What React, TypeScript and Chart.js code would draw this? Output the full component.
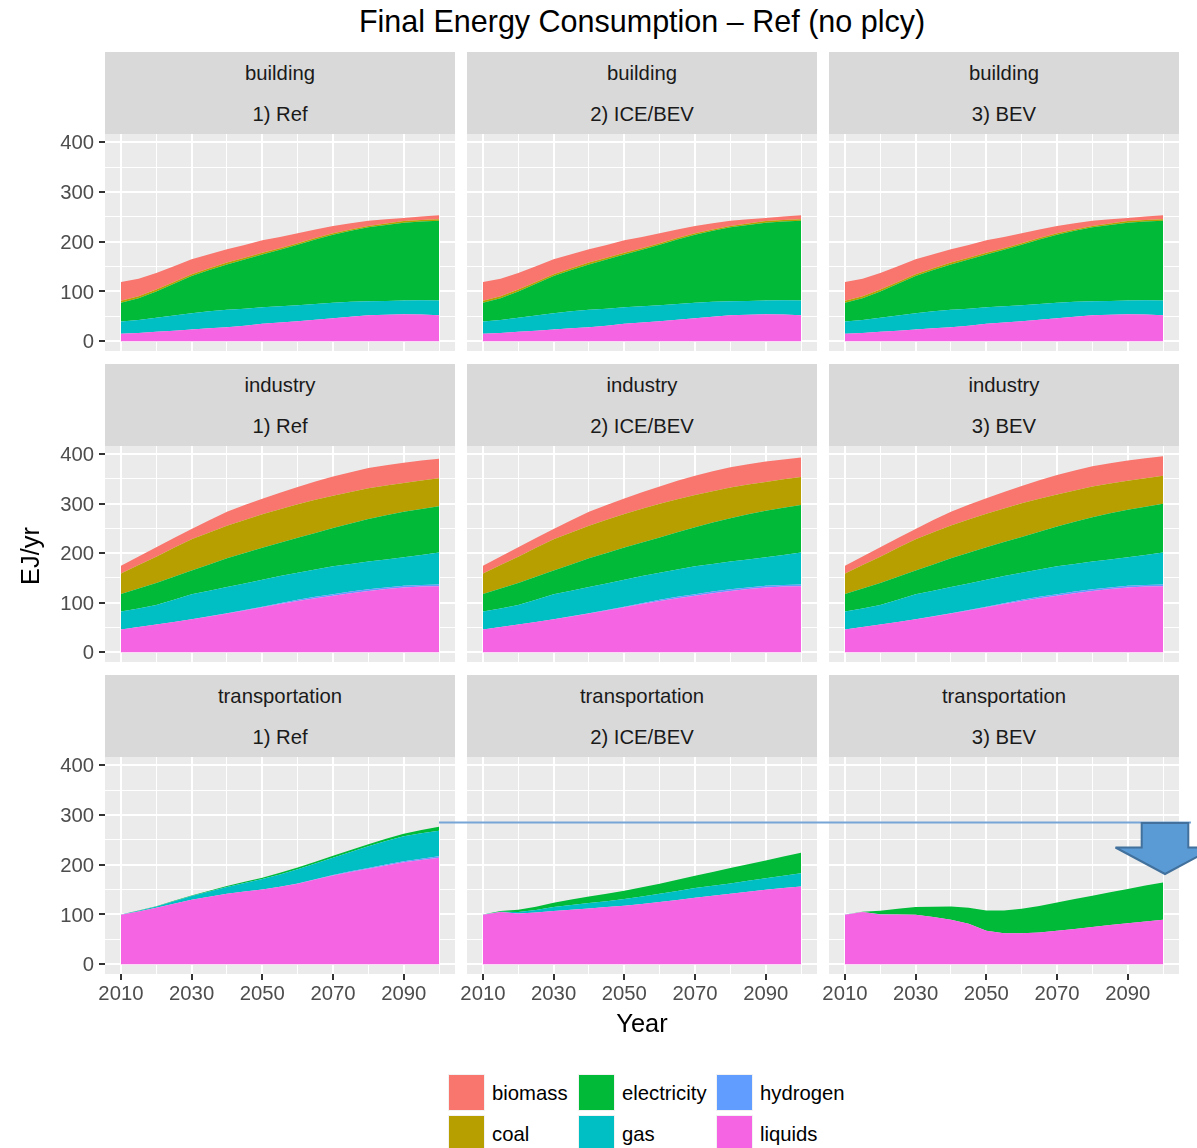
import { useEffect, useRef } from 'react';
import { Chart, registerables } from 'chart.js';

Chart.register(...registerables);

// ---------------- data ----------------
const years = [2010, 2015, 2020, 2025, 2030, 2035, 2040, 2045, 2050, 2055, 2060, 2065, 2070, 2075, 2080, 2085, 2090, 2095, 2100];
const xGridYears = [2010, 2020, 2030, 2040, 2050, 2060, 2070, 2080, 2090, 2100];
const xTickYears = [2010, 2030, 2050, 2070, 2090];
const yGridValues = [0, 50, 100, 150, 200, 250, 300, 350, 400];
const yTickValues = [0, 100, 200, 300, 400];

const sectors = ['building', 'industry', 'transportation'];
const scenarios = ['1) Ref', '2) ICE/BEV', '3) BEV'];
const fuels = ['biomass', 'coal', 'electricity', 'gas', 'hydrogen', 'liquids'];
const fuelColors = ['#F8766D', '#B79F00', '#00BA38', '#00BFC4', '#619CFF', '#F564E3'];

// building (EJ/yr)
const buildingLiquids = [15, 16.5, 19, 21, 23.5, 26, 28, 31, 35, 37.5, 40, 43, 46, 49, 52, 53, 54, 53.5, 52];
const buildingHydrogen = [0, 0, 0, 0, 0, 0, 0, 0, 0, 0, 0, 0, 0, 0, 0, 0, 0, 0, 0];
const buildingGas = [24.6, 26, 28, 30.5, 32.5, 34, 35, 34, 33, 32.5, 32, 31.5, 31, 30, 28.5, 28, 28, 29, 30];
const buildingElectricity = [37.4, 44, 53, 64, 75, 83, 91, 99, 106.5, 114, 122, 130, 137, 143, 148.5, 152.5, 156, 158, 160];
const buildingCoal = [4, 4, 4, 3.5, 3.5, 3.5, 4, 3.5, 3.5, 3, 3, 3, 3, 2.5, 2.5, 3, 3.5, 3, 3];
const buildingBiomass = [38, 35, 33, 31.5, 30, 28.5, 27, 26, 25, 22.5, 20, 17, 14.5, 12.5, 10.6, 8.5, 6.4, 7, 8];

// industry (EJ/yr)
const industryLiquids = [45.7, 50.7, 55.8, 61.2, 66.6, 72.2, 78, 84.3, 90.8, 97.2, 103.5, 109, 114.3, 119.2, 123.7, 127.6, 130.8, 132.5, 133.2];
const industryHydrogen = [0, 0, 0, 0, 0, 0.2, 0.5, 0.8, 1.2, 1.8, 2.5, 2.8, 3, 3.2, 3.3, 3.3, 3.3, 3.4, 3.5];
const industryGas = [36.3, 37.8, 39.7, 44.8, 50.4, 51.9, 53, 53.9, 54.5, 54.7, 54.7, 55.4, 56.1, 56, 56, 56.4, 57.5, 60.6, 64.7];
const industryElectricityRef = [35.6, 40.3, 44.5, 46.5, 48, 53, 58.1, 61.3, 64.5, 67.3, 70.3, 73.8, 77.6, 81.8, 86, 89.3, 92.1, 93, 93.6];
const industryElectricityIceBev = [35.6, 40.3, 44.5, 46.5, 48, 53, 58.3, 61.6, 65, 68, 71.2, 75, 79, 83.4, 87.8, 91.3, 94.2, 95.3, 96];
const industryElectricityBev = [35.6, 40.3, 44.5, 46.5, 48, 53.1, 58.5, 62, 65.6, 68.8, 72.2, 76.2, 80.4, 85, 89.6, 93.2, 96.3, 97.6, 98.6];
const industryCoal = [41.1, 47.2, 53, 58.3, 63, 64.7, 65.9, 66.9, 67.5, 68, 68, 66.8, 65, 63.5, 62, 60.1, 58.3, 57.4, 56.6];
const industryBiomass = [16.1, 17.2, 19, 19.7, 21, 24.8, 28.1, 30.1, 31.5, 33.3, 35, 37.2, 39, 40.1, 41, 41.1, 41, 40.3, 39.4];

// transportation (EJ/yr)
const transportNone = [0, 0, 0, 0, 0, 0, 0, 0, 0, 0, 0, 0, 0, 0, 0, 0, 0, 0, 0];
const transportRefLiquids = [99.3, 106, 113.4, 121.5, 129.5, 135.5, 141.6, 146, 150.3, 155.5, 161.7, 170, 178.5, 185.5, 192, 198.5, 204.7, 209.5, 214];
const transportRefHydrogen = [0, 0, 0, 0, 0, 0, 0, 0, 0, 0.3, 0.5, 0.8, 1, 1.3, 1.6, 2, 2.3, 2.6, 2.8];
const transportRefGas = [0.5, 1.5, 2.6, 5, 7.5, 10.5, 13.4, 17, 20.7, 24.5, 28.8, 31.5, 34.5, 39, 43.4, 47, 50, 51, 51.7];
const transportRefElectricity = [0.2, 0.4, 0.6, 0.8, 1, 1.5, 2, 2.5, 3, 3.3, 3.6, 3.8, 4, 4, 4, 4.6, 5.4, 6.5, 8];
const transportIceBevLiquids = [99.3, 105, 102, 104, 106.7, 109.5, 112, 114.7, 117.4, 121, 124.8, 129, 133.6, 137.5, 141.6, 145.6, 149.7, 153, 156.4];
const transportIceBevGas = [0.3, 0.5, 2.7, 5, 8.1, 9.5, 10.8, 12, 13.5, 15, 16.8, 18, 19.4, 20, 20.8, 22, 23.3, 25, 26.6];
const transportIceBevElectricity = [0.2, 1.5, 4.7, 6.5, 8.7, 11, 13.2, 15, 16.8, 18.5, 20.1, 22.5, 24.9, 28, 30.9, 33.5, 35.7, 38.5, 41.2];
const transportBevLiquids = [99.3, 104.7, 100, 100, 99.3, 94.6, 89.3, 81.2, 67, 62.4, 62.4, 63.8, 67, 70.8, 74.5, 78.5, 82.5, 86, 89.3];
const transportBevGas = [0.3, 0.3, 0.2, 0.1, 0, 0, 0, 0, 0, 0, 0, 0, 0, 0, 0, 0, 0, 0, 0];
const transportBevElectricity = [0.4, 0.4, 7.2, 11.3, 15.5, 20.8, 26.7, 32.2, 41, 45.6, 49, 53, 57.2, 60, 63.1, 66, 68.5, 72, 75.1];

type FuelData = Record<string, number[]>;

const panelData: FuelData[][] = [
  [
    { biomass: buildingBiomass, coal: buildingCoal, electricity: buildingElectricity, gas: buildingGas, hydrogen: buildingHydrogen, liquids: buildingLiquids },
    { biomass: buildingBiomass, coal: buildingCoal, electricity: buildingElectricity, gas: buildingGas, hydrogen: buildingHydrogen, liquids: buildingLiquids },
    { biomass: buildingBiomass, coal: buildingCoal, electricity: buildingElectricity, gas: buildingGas, hydrogen: buildingHydrogen, liquids: buildingLiquids },
  ],
  [
    { biomass: industryBiomass, coal: industryCoal, electricity: industryElectricityRef, gas: industryGas, hydrogen: industryHydrogen, liquids: industryLiquids },
    { biomass: industryBiomass, coal: industryCoal, electricity: industryElectricityIceBev, gas: industryGas, hydrogen: industryHydrogen, liquids: industryLiquids },
    { biomass: industryBiomass, coal: industryCoal, electricity: industryElectricityBev, gas: industryGas, hydrogen: industryHydrogen, liquids: industryLiquids },
  ],
  [
    { biomass: transportNone, coal: transportNone, electricity: transportRefElectricity, gas: transportRefGas, hydrogen: transportRefHydrogen, liquids: transportRefLiquids },
    { biomass: transportNone, coal: transportNone, electricity: transportIceBevElectricity, gas: transportIceBevGas, hydrogen: transportNone, liquids: transportIceBevLiquids },
    { biomass: transportNone, coal: transportNone, electricity: transportBevElectricity, gas: transportBevGas, hydrogen: transportNone, liquids: transportBevLiquids },
  ],
];

// ---------------- layout / style ----------------
const FONT = '"Liberation Sans", Arial, Helvetica, sans-serif';
const COL_LEFT = [105, 467, 829];
const PANEL_W = 350;
const STRIP_TOP = [52, 364, 675];
const STRIP_H = 82;
const PLOT_TOP = [134, 446, 757];
const PLOT_H = [217, 216, 217];
const TICK_FONT = 20.3;

const panelBg = {
  id: 'panelBg',
  beforeDraw(chart: any) {
    const { ctx, chartArea } = chart;
    if (!chartArea) return;
    ctx.save();
    ctx.fillStyle = '#EBEBEB';
    ctx.fillRect(chartArea.left, chartArea.top, chartArea.right - chartArea.left, chartArea.bottom - chartArea.top);
    ctx.restore();
  },
};

function Panel({ row, col }: { row: number; col: number }) {
  const ref = useRef<HTMLCanvasElement>(null);
  const showY = col === 0;
  const showX = row === 2;
  const yW = showY ? 65 : 12;
  const xH = showX ? 44 : 0;
  const w = yW + PANEL_W;
  const h = PLOT_H[row] + xH;

  useEffect(() => {
    const d = panelData[row][col];
    const stackOrder = ['liquids', 'hydrogen', 'gas', 'electricity', 'coal', 'biomass'];
    const datasets = stackOrder.map((f, i) => ({
      label: f,
      data: years.map((yr, k) => ({ x: yr, y: d[f][k] })),
      backgroundColor: fuelColors[fuels.indexOf(f)],
      borderColor: 'rgba(0,0,0,0)',
      borderWidth: 0,
      pointRadius: 0,
      pointHoverRadius: 0,
      tension: 0,
      fill: i === 0 ? 'origin' : '-1',
    }));
    const chart = new Chart(ref.current as HTMLCanvasElement, {
      type: 'line',
      data: { datasets },
      plugins: [panelBg],
      options: {
        animation: false,
        responsive: false,
        maintainAspectRatio: false,
        devicePixelRatio: 1,
        events: [],
        layout: { padding: 0 },
        plugins: { legend: { display: false }, tooltip: { enabled: false }, title: { display: false } },
        scales: {
          x: {
            type: 'linear',
            min: 2005.5,
            max: 2104.5,
            afterBuildTicks: (s: any) => {
              s.ticks = xGridYears.map((v) => ({ value: v }));
            },
            afterFit: (s: any) => {
              s.height = xH;
              s.paddingLeft = 0;
              s.paddingRight = 0;
            },
            border: { display: false },
            grid: {
              color: '#FFFFFF',
              lineWidth: (c: any) => (c.tick && xTickYears.includes(c.tick.value) ? 2 : 1),
              drawTicks: showX,
              tickLength: 6,
              tickWidth: 2,
              tickColor: (c: any) => (c.tick && xTickYears.includes(c.tick.value) ? '#333333' : 'rgba(0,0,0,0)'),
            },
            ticks: {
              display: showX,
              autoSkip: false,
              maxRotation: 0,
              minRotation: 0,
              padding: 2,
              color: '#4D4D4D',
              font: { family: FONT, size: TICK_FONT },
              callback: (v: any) => (xTickYears.includes(Number(v)) ? String(v) : ''),
            },
          },
          y: {
            type: 'linear',
            stacked: true,
            min: -19.8,
            max: 416.6,
            afterBuildTicks: (s: any) => {
              s.ticks = yGridValues.map((v) => ({ value: v }));
            },
            afterFit: (s: any) => {
              s.width = yW;
              s.paddingTop = 0;
              s.paddingBottom = 0;
            },
            border: { display: false },
            grid: {
              color: '#FFFFFF',
              lineWidth: (c: any) => (c.tick && yTickValues.includes(c.tick.value) ? 2 : 1),
              drawTicks: showY,
              tickLength: 6,
              tickWidth: 2,
              tickColor: (c: any) => (c.tick && yTickValues.includes(c.tick.value) ? '#333333' : 'rgba(0,0,0,0)'),
            },
            ticks: {
              display: showY,
              autoSkip: false,
              padding: 5,
              labelOffset: 1.5,
              color: '#4D4D4D',
              font: { family: FONT, size: TICK_FONT },
              callback: (v: any) => (yTickValues.includes(Number(v)) ? String(v) : ''),
            },
          },
        },
      } as any,
    });
    return () => chart.destroy();
  }, [row, col]);

  return (
    <canvas
      ref={ref}
      width={w}
      height={h}
      style={{ position: 'absolute', left: COL_LEFT[col] - yW, top: PLOT_TOP[row], width: w, height: h }}
    />
  );
}

function Strip({ row, col }: { row: number; col: number }) {
  const lineStyle = {
    position: 'absolute' as const,
    left: 0,
    width: PANEL_W,
    height: 24,
    lineHeight: '24px',
    textAlign: 'center' as const,
    fontSize: TICK_FONT,
    color: '#1A1A1A',
  };
  return (
    <div style={{ position: 'absolute', left: COL_LEFT[col], top: STRIP_TOP[row], width: PANEL_W, height: STRIP_H, background: '#D9D9D9' }}>
      <div style={{ ...lineStyle, top: 9 }}>{sectors[row]}</div>
      <div style={{ ...lineStyle, top: 50 }}>{scenarios[col]}</div>
    </div>
  );
}

const legendCols = [449, 579, 717];
const legendRows = [1075, 1116];

export default function App() {
  useEffect(() => {
    document.body.style.margin = '0';
    document.body.style.overflow = 'hidden';
  }, []);

  const cells: any[] = [];
  for (let r = 0; r < 3; r++) {
    for (let c = 0; c < 3; c++) {
      cells.push(<Strip key={`s${r}${c}`} row={r} col={c} />);
      cells.push(<Panel key={`p${r}${c}`} row={r} col={c} />);
    }
  }

  return (
    <div style={{ position: 'relative', width: 1197, height: 1148, overflow: 'hidden', background: '#FFFFFF', fontFamily: FONT }}>
      <div style={{ position: 'absolute', left: 105, width: 1074, top: 3, height: 36, lineHeight: '36px', textAlign: 'center', fontSize: 30.5, color: '#000' }}>
        Final Energy Consumption – Ref (no plcy)
      </div>
      {cells}
      <div style={{ position: 'absolute', left: 105, width: 1074, top: 1008, height: 30, lineHeight: '30px', textAlign: 'center', fontSize: 25.4, color: '#000' }}>
        Year
      </div>
      <div
        style={{
          position: 'absolute',
          left: 30 - 50,
          top: 556 - 15,
          width: 100,
          height: 30,
          lineHeight: '30px',
          textAlign: 'center',
          fontSize: 25.4,
          color: '#000',
          transform: 'rotate(-90deg)',
        }}
      >
        EJ/yr
      </div>
      {fuels.map((f, i) => {
        const c = Math.floor(i / 2);
        const r = i % 2;
        return (
          <div key={f}>
            <div
              style={{
                position: 'absolute',
                left: legendCols[c] - 1,
                top: legendRows[r] - 1,
                width: 35,
                height: 35,
                border: '1px solid #F2F2F2',
                background: fuelColors[i],
              }}
            />
            <div
              style={{
                position: 'absolute',
                left: legendCols[c] + 43,
                top: legendRows[r] + 17.5 - 12,
                height: 24,
                lineHeight: '24px',
                fontSize: TICK_FONT,
                color: '#000',
                whiteSpace: 'nowrap',
              }}
            >
              {f}
            </div>
          </div>
        );
      })}
      <svg width={1197} height={1148} style={{ position: 'absolute', left: 0, top: 0, pointerEvents: 'none' }}>
        <line x1={439} y1={822.5} x2={1191} y2={822.5} stroke="#78A5D8" strokeWidth={2} />
        <polygon
          points="1141.7,823 1188.3,823 1188.3,847.5 1214.5,847.5 1165,874 1115.5,847.5 1141.7,847.5"
          fill="#5B9BD5"
          stroke="#41719C"
          strokeWidth={2}
          strokeLinejoin="miter"
        />
      </svg>
    </div>
  );
}
